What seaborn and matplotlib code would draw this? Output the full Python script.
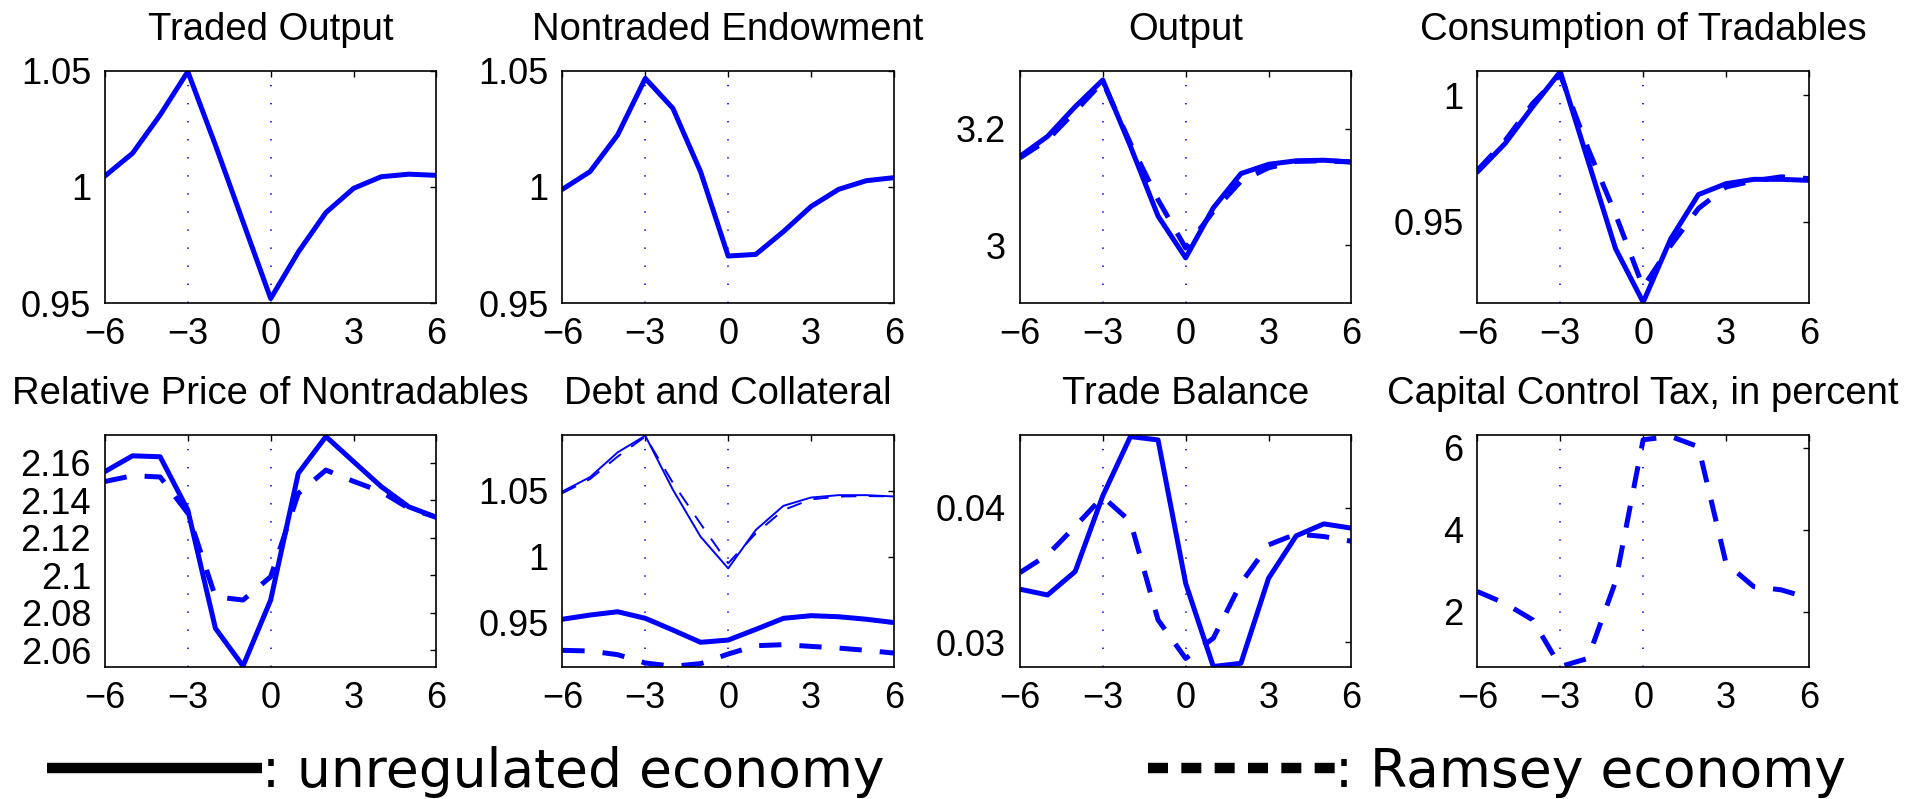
import matplotlib
matplotlib.use("Agg")
import matplotlib.pyplot as plt
from matplotlib.lines import Line2D
from matplotlib.ticker import FuncFormatter
import seaborn as sns

# quarters around the crisis (t=0)
quarters = [-6, -5, -4, -3, -2, -1, 0, 1, 2, 3, 4, 5, 6]
event_marks = [-3, 0]
x_ticks = [-6, -3, 0, 3, 6]

traded_output = [1.0047, 1.0145, 1.031, 1.0496, 1.018, 0.985, 0.952, 0.972, 0.989, 0.9994, 1.0044, 1.0055, 1.005]
nontraded_endow = [0.999, 1.0066, 1.0224, 1.0467, 1.0338, 1.0066, 0.9703, 0.971, 0.9808, 0.9916, 0.999, 1.0027, 1.004]

output_unreg = [3.1526, 3.187, 3.238, 3.284, 3.170, 3.05, 2.978, 3.064, 3.123, 3.139, 3.145, 3.146, 3.143]
output_ramsey = [3.150, 3.181, 3.230, 3.281, 3.175, 3.078, 2.995, 3.058, 3.110, 3.133, 3.144, 3.145, 3.143]

cons_unreg = [0.9697, 0.9809, 0.9954, 1.0092, 0.9743, 0.9395, 0.9184, 0.9434, 0.9608, 0.9651, 0.9668, 0.9668, 0.9664]
cons_ramsey = [0.9704, 0.982, 0.9967, 1.008, 0.979, 0.953, 0.9243, 0.9408, 0.9553, 0.9638, 0.9662, 0.9678, 0.9671]

price_unreg = [2.1552, 2.1636, 2.1631, 2.1347, 2.0716, 2.0515, 2.0867, 2.1543, 2.1739, 2.1605, 2.1472, 2.1364, 2.1308]
price_ramsey = [2.1499, 2.153, 2.1523, 2.133, 2.0884, 2.0867, 2.0991, 2.1435, 2.156, 2.15, 2.1445, 2.1356, 2.1308]

collat_unreg = [1.0495, 1.0604, 1.0792, 1.0918, 1.0508, 1.0152, 0.9911, 1.0203, 1.0386, 1.0449, 1.0467, 1.0467, 1.0457]
collat_ramsey = [1.0482, 1.0589, 1.076, 1.0912, 1.056, 1.025, 0.995, 1.0177, 1.0354, 1.0435, 1.0456, 1.046, 1.0457]
debt_unreg = [0.9525, 0.9557, 0.9582, 0.9532, 0.9443, 0.935, 0.9367, 0.9448, 0.9532, 0.9552, 0.9544, 0.9525, 0.95]
debt_ramsey = [0.9289, 0.9284, 0.9256, 0.9193, 0.9168, 0.9188, 0.9261, 0.9324, 0.9332, 0.9319, 0.9306, 0.9289, 0.9268]

tb_unreg = [0.03394, 0.03351, 0.03525, 0.04087, 0.04527, 0.04502, 0.03438, 0.0282, 0.02844, 0.03475, 0.0379, 0.03879, 0.03847]
tb_ramsey = [0.03517, 0.03649, 0.0386, 0.0408, 0.03896, 0.03166, 0.0288, 0.0303, 0.03438, 0.03723, 0.03804, 0.03785, 0.0375]

tax_ramsey = [2.49, 2.2, 1.8, 0.66, 0.86, 2.73, 6.19, 6.27, 6.02, 3.18, 2.61, 2.53, 2.33]

titles = ["Traded Output", "Nontraded Endowment", "Output", "Consumption of Tradables",
          "Relative Price of Nontradables", "Debt and Collateral", "Trade Balance",
          "Capital Control Tax, in percent"]
y_limits = [(0.95, 1.05), (0.95, 1.05), (2.9, 3.3), (0.918, 1.0096),
            (2.0508, 2.1748), (0.916, 1.0925), (0.02814, 0.0454), (0.642, 6.31)]
y_ticks = [[0.95, 1, 1.05], [0.95, 1, 1.05], [3, 3.2], [0.95, 1],
           [2.06, 2.08, 2.1, 2.12, 2.14, 2.16], [0.95, 1, 1.05], [0.03, 0.04], [2, 4, 6]]

sns.set_style("white")
plt.rcParams["font.family"] = ["Liberation Sans", "DejaVu Sans"]
plt.rcParams["lines.scale_dashes"] = False
plt.rcParams["text.color"] = "black"

BLUE = "#0000ff"
THICK = 3.6
DASH = (0, (16, 13))
THIN_DASH = (0, (11, 9))

fig, axes = plt.subplots(2, 4, figsize=(19.25, 7.99), dpi=100)
fig.subplots_adjust(left=0.0545, right=0.9397, top=0.9115, bottom=0.1648,
                     wspace=0.38, hspace=0.566)
axes = axes.ravel()

series = [
    [(traded_output, "-", THICK)],
    [(nontraded_endow, "-", THICK)],
    [(output_unreg, "-", THICK), (output_ramsey, DASH, THICK)],
    [(cons_unreg, "-", THICK), (cons_ramsey, DASH, THICK)],
    [(price_unreg, "-", THICK), (price_ramsey, DASH, THICK)],
    [(collat_unreg, "-", 1.4), (collat_ramsey, THIN_DASH, 1.4),
     (debt_unreg, "-", THICK), (debt_ramsey, DASH, THICK)],
    [(tb_unreg, "-", THICK), (tb_ramsey, DASH, THICK)],
    [(tax_ramsey, DASH, THICK)],
]

fmt = FuncFormatter(lambda v, p: f"{v:g}".replace("-", "\u2212"))

for ax, title, lines, ylim, yt in zip(axes, titles, series, y_limits, y_ticks):
    for vals, ls, lw in lines:
        sns.lineplot(x=quarters, y=vals, ax=ax, color=BLUE, linewidth=lw,
                     linestyle=ls)
    for m in event_marks:
        ax.axvline(m, color=BLUE, linewidth=1.2, linestyle=(0, (1, 12)))
    ax.set_xlim(-6, 6)
    ax.set_ylim(*ylim)
    ax.set_xticks(x_ticks)
    ax.set_yticks(yt)
    ax.xaxis.set_major_formatter(fmt)
    ax.yaxis.set_major_formatter(fmt)
    ax.set_title(title, fontsize=27.5, pad=22, color="black")
    ax.tick_params(direction="in", length=4, width=1, labelsize=26,
                   top=True, right=True, colors="black", labelcolor="black")
    ax.tick_params(axis="y", pad=10)
    ax.tick_params(axis="x", pad=10)
    for sp in ax.spines.values():
        sp.set_color("black")
        sp.set_linewidth(1.2)

# legend along the bottom edge
leg_font = {"family": "DejaVu Sans", "size": 38.5}
h1 = Line2D([], [], color="black", linewidth=7.5, solid_capstyle="butt")
h2 = Line2D([], [], color="black", linewidth=7.5, linestyle=(0, (14.4, 9.6)),
            dash_capstyle="butt")
fig.legend([h1], [": unregulated economy"], loc="center left",
           bbox_to_anchor=(0.0244, 0.034), frameon=False, prop=leg_font,
           handlelength=4.03, handletextpad=0, borderpad=0, borderaxespad=0,
           labelcolor="black")
fig.legend([h2], [": Ramsey economy"], loc="center left",
           bbox_to_anchor=(0.5964, 0.034), frameon=False, prop=leg_font,
           handlelength=3.5, handletextpad=0, borderpad=0, borderaxespad=0,
           labelcolor="black")

plt.savefig("out.png", dpi=100)
